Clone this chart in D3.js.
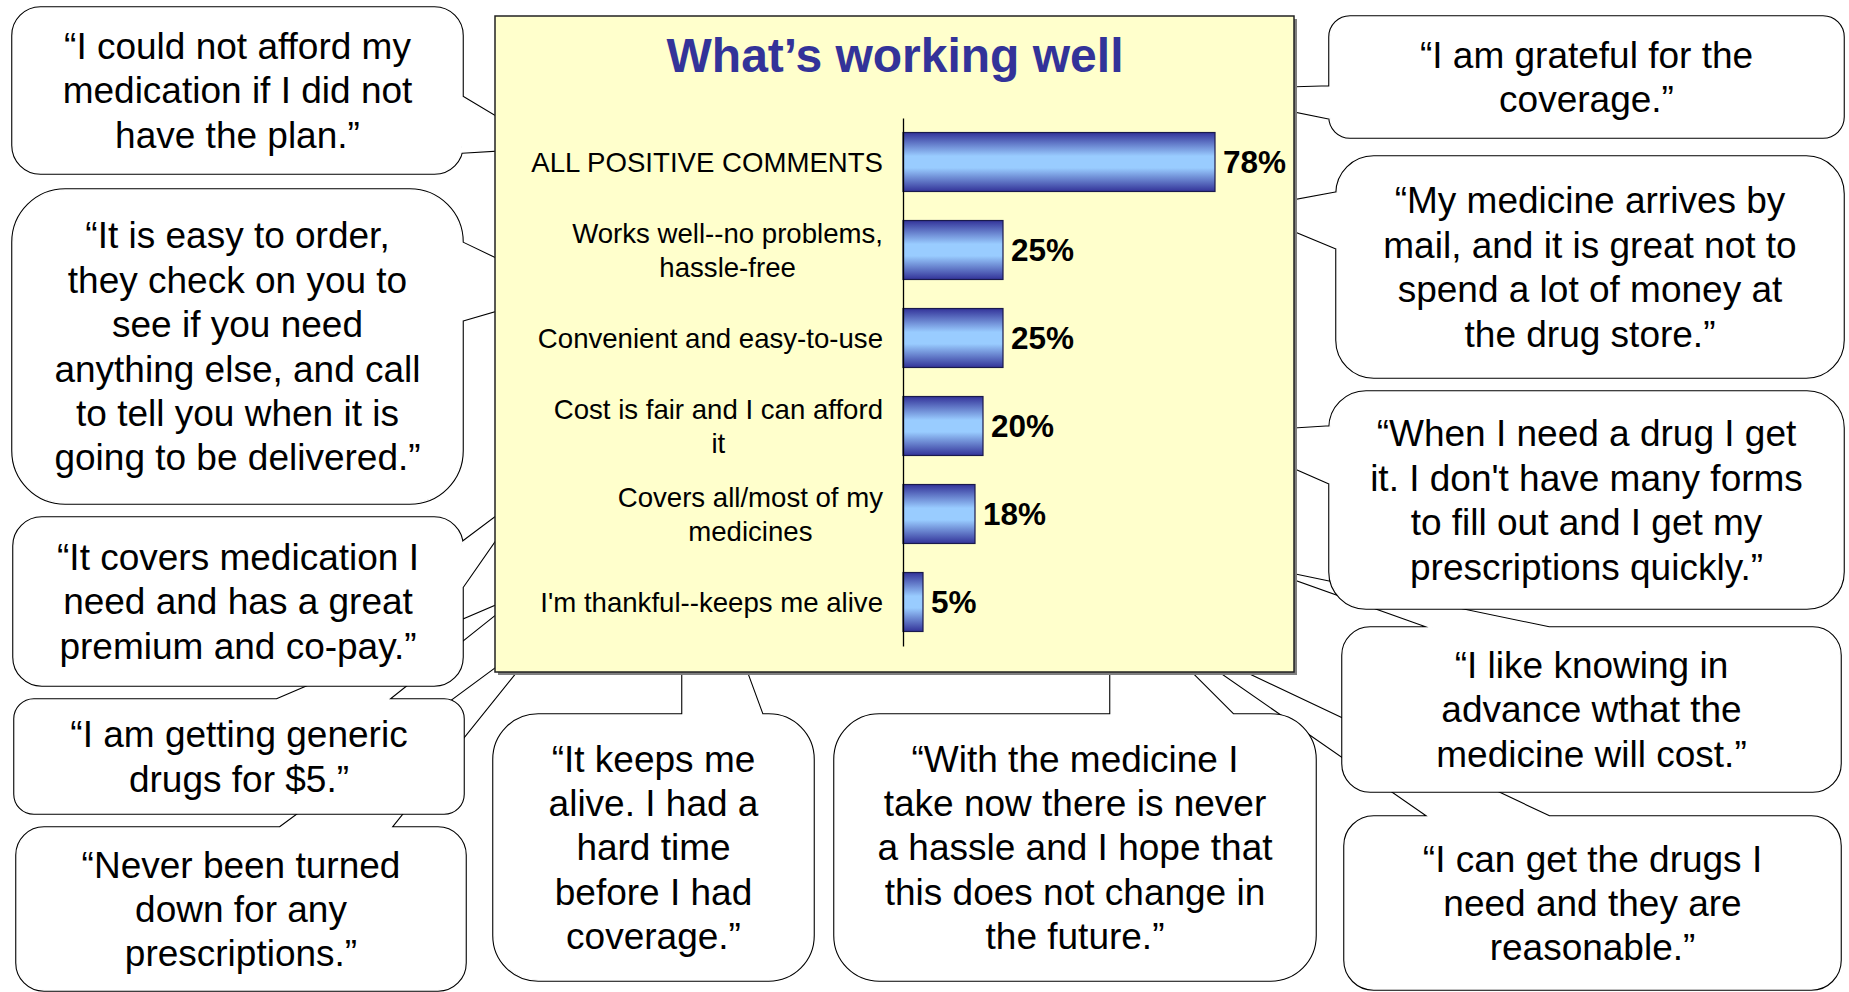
<!DOCTYPE html>
<html>
<head>
<meta charset="utf-8">
<script src="https://cdn.jsdelivr.net/npm/d3@7"></script>
<style>
  body { margin: 0; background: #fff; }
  svg { display: block; font-family: "Liberation Sans", Arial, sans-serif; }
</style>
</head>
<body>
<div id="chart"></div>
<script>
// chart data
var title = "What\u2019s working well";
var categories = [
  ["ALL POSITIVE COMMENTS"],
  ["Works well--no problems,", "hassle-free"],
  ["Convenient and easy-to-use"],
  ["Cost is fair and I can afford", "it"],
  ["Covers all/most of my", "medicines"],
  ["I'm thankful--keeps me alive"]
];
var values = [78, 25, 25, 20, 18, 5];

// quotes around the chart
var quotes = [
  ["\u201cI can get the drugs I", "need and they are", "reasonable.\u201d"],
  ["\u201cI like knowing in", "advance wthat the", "medicine will cost.\u201d"],
  ["\u201cWhen I need a drug I get", "it. I don't have many forms", "to fill out and I get my", "prescriptions quickly.\u201d"],
  ["\u201cMy medicine arrives by", "mail, and it is great not to", "spend a lot of money at", "the drug store.\u201d"],
  ["\u201cI am grateful for the", "coverage.\u201d"],
  ["\u201cNever been turned", "down for any", "prescriptions.\u201d"],
  ["\u201cI am getting generic", "drugs for $5.\u201d"],
  ["\u201cIt covers medication I", "need and has a great", "premium and co-pay.\u201d"],
  ["\u201cIt is easy to order,", "they check on you to", "see if you need", "anything else, and call", "to tell you when it is", "going to be delivered.\u201d"],
  ["\u201cI could not afford my", "medication if I did not", "have the plan.\u201d"],
  ["\u201cIt keeps me", "alive. I had a", "hard time", "before I had", "coverage.\u201d"],
  ["\u201cWith the medicine I", "take now there is never", "a hassle and I hope that", "this does not change in", "the future.\u201d"]
];

// layout of the bubbles (same order as quotes, drawn back to front)
var boxes = [
  {x: 1345, y: 817, w: 495, h: 172, side: "top", a0: 1430, a1: 1549, tip: [1175, 640]},
  {x: 1343, y: 628, w: 497, h: 163, side: "top", a0: 1433, a1: 1549, tip: [1270, 570]},
  {x: 1330, y: 392, w: 513, h: 216, side: "left", a0: 427, a1: 483, tip: [1218, 434]},
  {x: 1337, y: 157, w: 506, h: 220, side: "left", a0: 193, a1: 248, tip: [1245, 210]},
  {x: 1330, y: 17, w: 513, h: 120, side: "left", a0: 87, a1: 118, tip: [1197, 91]},
  {x: 17, y: 828, w: 448, h: 162, side: "top", a0: 280, a1: 390, tip: [550, 629]},
  {x: 15, y: 700, w: 448, h: 113, side: "top", a0: 277, a1: 387, tip: [515, 598]},
  {x: 14, y: 518, w: 448, h: 167, side: "right", a0: 543, a1: 587, tip: [526, 495]},
  {x: 13, y: 190, w: 449, h: 313, side: "right", a0: 243, a1: 320, tip: [562, 291]},
  {x: 13, y: 8, w: 449, h: 165, side: "right", a0: 97, a1: 152, tip: [545, 147]},
  {x: 494, y: 715, w: 319, h: 265, side: "top", a0: 683, a1: 762, tip: [683, 500]},
  {x: 835, y: 715, w: 480, h: 265, side: "top", a0: 1111, a1: 1233, tip: [1111, 593]}
];

var width = 1849, height = 992;

var svg = d3.select("#chart").append("svg")
  .attr("width", width)
  .attr("height", height);

var defs = svg.append("defs");
var grad = defs.append("linearGradient")
  .attr("id", "barGrad")
  .attr("x1", 0).attr("y1", 0).attr("x2", 0).attr("y2", 1);
grad.append("stop").attr("offset", "0%").attr("stop-color", "#333399");
grad.append("stop").attr("offset", "40%").attr("stop-color", "#99ccff");
grad.append("stop").attr("offset", "60%").attr("stop-color", "#99ccff");
grad.append("stop").attr("offset", "100%").attr("stop-color", "#333399");

// bubble outline with its pointer
function bubblePath(b) {
  var r = Math.min(b.w, b.h) / 6;
  var x = b.x, y = b.y, w = b.w, h = b.h, t = b.tip;
  var p = "M" + (x + r) + "," + y;
  if (b.side === "top") p += "L" + b.a0 + "," + y + "L" + t[0] + "," + t[1] + "L" + b.a1 + "," + y;
  p += "L" + (x + w - r) + "," + y + "A" + r + "," + r + " 0 0 1 " + (x + w) + "," + (y + r);
  if (b.side === "right") p += "L" + (x + w) + "," + b.a0 + "L" + t[0] + "," + t[1] + "L" + (x + w) + "," + b.a1;
  p += "L" + (x + w) + "," + (y + h - r) + "A" + r + "," + r + " 0 0 1 " + (x + w - r) + "," + (y + h);
  p += "L" + (x + r) + "," + (y + h) + "A" + r + "," + r + " 0 0 1 " + x + "," + (y + h - r);
  if (b.side === "left") p += "L" + x + "," + b.a1 + "L" + t[0] + "," + t[1] + "L" + x + "," + b.a0;
  p += "L" + x + "," + (y + r) + "A" + r + "," + r + " 0 0 1 " + (x + r) + "," + y + "Z";
  return p;
}

var bubbles = svg.append("g").attr("class", "bubbles")
  .selectAll("g")
  .data(boxes)
  .enter().append("g");

bubbles.append("path")
  .attr("d", bubblePath)
  .attr("fill", "#fff")
  .attr("stroke", "#000")
  .attr("stroke-width", 3.6)
  .attr("stroke-linejoin", "round");
bubbles.append("path")
  .attr("d", bubblePath)
  .attr("fill", "#fff")
  .attr("stroke", "#fff")
  .attr("stroke-width", 1.4)
  .attr("stroke-linejoin", "round");

var quoteSize = 37, quoteLead = 44.4;
bubbles.append("text")
  .attr("text-anchor", "middle")
  .attr("font-size", quoteSize)
  .attr("fill", "#000")
  .each(function(b, i) {
    var lines = quotes[i];
    var cx = b.x + b.w / 2, cy = b.y + b.h / 2;
    var y0 = cy - (lines.length - 1) * quoteLead / 2 + quoteSize * 0.35;
    d3.select(this).selectAll("tspan")
      .data(lines)
      .enter().append("tspan")
      .attr("x", cx)
      .attr("y", function(d, k) { return y0 + k * quoteLead; })
      .text(function(d) { return d; });
  });

// chart panel
var panel = {x: 495, y: 16, w: 799, h: 656};
svg.append("rect")
  .attr("x", panel.x + 3).attr("y", panel.y + 3)
  .attr("width", panel.w).attr("height", panel.h)
  .attr("fill", "#7f7f7f");
svg.append("rect")
  .attr("x", panel.x).attr("y", panel.y)
  .attr("width", panel.w).attr("height", panel.h)
  .attr("fill", "#ffffcc")
  .attr("stroke", "#222")
  .attr("stroke-width", 1.5);

svg.append("text")
  .attr("x", 895)
  .attr("y", 72)
  .attr("text-anchor", "middle")
  .attr("font-size", 48)
  .attr("font-weight", "bold")
  .attr("fill", "#333399")
  .text(title);

var x = d3.scaleLinear().domain([0, 100]).range([903, 1303]);
var y = d3.scaleBand()
  .domain(d3.range(values.length))
  .range([118, 646])
  .paddingInner(0.33)
  .paddingOuter(0.165);

var g = svg.append("g");

g.selectAll("rect.bar")
  .data(values)
  .enter().append("rect")
  .attr("class", "bar")
  .attr("x", x(0))
  .attr("y", function(d, i) { return y(i); })
  .attr("width", function(d) { return x(d) - x(0); })
  .attr("height", y.bandwidth())
  .attr("fill", "url(#barGrad)")
  .attr("stroke", "#1a1a4d")
  .attr("stroke-width", 1.2);

var axis = g.append("g")
  .attr("transform", "translate(" + x(0) + ",0)")
  .call(d3.axisLeft(y).tickSize(0).tickSizeOuter(0).tickFormat(""));
axis.select(".domain").attr("stroke", "#000").attr("stroke-width", 1.3);

g.selectAll("text.val")
  .data(values)
  .enter().append("text")
  .attr("class", "val")
  .attr("x", function(d) { return x(d) + 8; })
  .attr("y", function(d, i) { return y(i) + y.bandwidth() / 2 + 11; })
  .attr("font-size", 31.5)
  .attr("font-weight", "bold")
  .attr("fill", "#000")
  .text(function(d) { return d + "%"; });

var labelSize = 27.6, labelLead = 34, labelRight = 883;
g.selectAll("text.cat")
  .data(categories)
  .enter().append("text")
  .attr("class", "cat")
  .attr("font-size", labelSize)
  .attr("text-anchor", "middle")
  .attr("fill", "#000")
  .each(function(lines, i) {
    var t = d3.select(this);
    var cy = y(i) + y.bandwidth() / 2;
    var y0 = cy - (lines.length - 1) * labelLead / 2 + labelSize * 0.35;
    var spans = t.selectAll("tspan")
      .data(lines)
      .enter().append("tspan")
      .attr("y", function(d, k) { return y0 + k * labelLead; })
      .text(function(d) { return d; });
    var maxW = 0;
    spans.each(function() { maxW = Math.max(maxW, this.getComputedTextLength()); });
    spans.attr("x", labelRight - maxW / 2);
  });
</script>
</body>
</html>
